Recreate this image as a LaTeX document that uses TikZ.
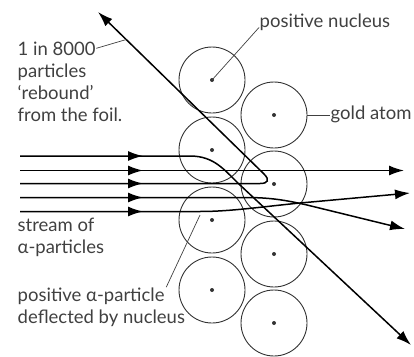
\documentclass[tikz,border=0pt]{standalone}
\usepackage{fontspec}
\setmainfont{Lato}
\usepackage{xcolor}
\usepackage{tikz}
\usetikzlibrary{arrows.meta, decorations.markings}

\definecolor{txtgray}{HTML}{404040}
\definecolor{atomgray}{HTML}{333333}

\begin{document}
\begin{tikzpicture}[x=1pt, y=-1pt, >={Latex[length=15pt,width=10pt]},
    atom/.style={circle, draw=atomgray, line width=0.9pt, minimum size=66pt, inner sep=0pt},
    ray/.style={line width=1.5pt, black},
    inray/.style={ray, postaction={decorate},
      decoration={markings, mark=at position 123pt with {\arrow{>}}}},
    lbl/.style={font=\fontsize{18.5}{22}\selectfont, text=txtgray, align=left, inner sep=0.5pt},
    leader/.style={draw=txtgray, line width=0.7pt}]
      \useasboundingbox (0,0) rectangle (414,356);
      % the gold foil: two columns of atoms
      \foreach \i/\y in {1/80,2/150,3/220,4/290}
        \node[atom] (L\i) at (212,\y) {};
      \foreach \i/\y in {1/115,2/184,3/254,4/323}
        \node[atom] (R\i) at (274,\y) {};
      % nuclei
      \foreach \n in {L1,L2,L3,L4,R1,R2,R3,R4}
        \fill[atomgray] (\n.center) circle (2);
      % stream of alpha particles
      \draw[inray, ->] (20,156) -- (190,156) .. controls (215,156) and (225,171) .. (240,185) -- (411,345);
      \draw[inray, ->] (20,170.5) -- (404,170.5);
      \draw[inray, ->] (20,183.5) -- (260,183.5) .. controls (268,183.5) and (270,180) .. (264,174)
        -- coordinate[pos=0.83] (rebhit) (98,12);
      \draw[inray, ->] (20,197.5) -- (245,197.5) .. controls (270,197.5) and (285,200) .. (307,205) -- (405,229);
      \draw[inray, ->] (20,211.5) -- (200,211.5) .. controls (230,211.5) and (260,207) .. (300,203) -- (410,193);
      % labels (base of a multi-line node = its last line)
      \node[lbl, anchor=base west] (reb1) at (17,55) {1 in 8000};
      \node[lbl, anchor=base west] (reb2) at (17,121.5) {particles\\‘rebound’\\from the foil.};
      \draw[leader] (reb1.east) -- (rebhit);
      \node[lbl, anchor=base west] (nucl) at (259,27.5) {positive nucleus};
      \draw[leader] (L1.center) -- (nucl.base west);
      \node[lbl, anchor=base west] (gold) at (330,119.5) {gold atom};
      \draw[leader] (R1.east) -- (R1.east -| gold.west);
      \node[lbl, anchor=base west] (stream) at (17,253.5) {stream of\\α-particles};
      \node[lbl, anchor=base west] (defl1) at (17,301.5) {positive α-particle};
      \node[lbl, anchor=base west] (defl2) at (17,323.5) {deflected by nucleus};
      \coordinate (defhit) at (200,215);
      \draw[leader] ([xshift=1pt]defl1.north east) -- (defhit);
\end{tikzpicture}
\end{document}
